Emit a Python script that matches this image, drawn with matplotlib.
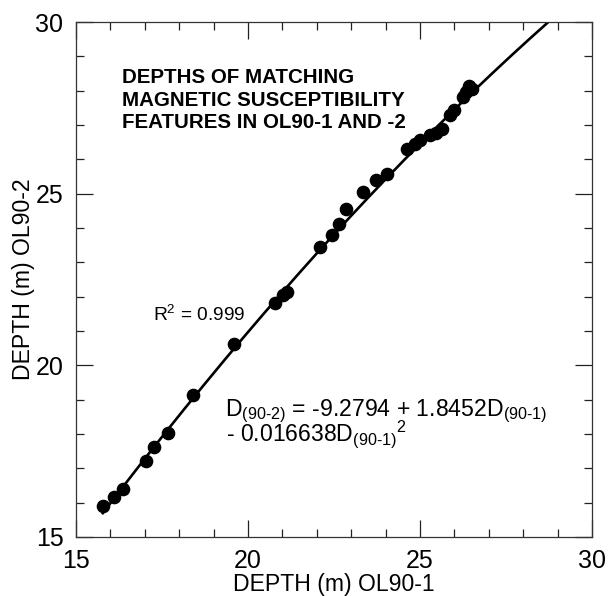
import numpy as np
import matplotlib
matplotlib.use("Agg")
import matplotlib.pyplot as plt
from matplotlib.ticker import MultipleLocator

plt.rcParams['font.family'] = ['Liberation Sans', 'DejaVu Sans']
plt.rcParams['mathtext.fontset'] = 'custom'
plt.rcParams['mathtext.rm'] = 'Liberation Sans'
plt.rcParams['mathtext.it'] = 'Liberation Sans'
plt.rcParams['mathtext.bf'] = 'Liberation Sans:bold'

# Matched feature depths (m)
depth_ol90_1 = [15.78, 16.10, 16.37, 17.03, 17.27, 17.67, 18.40, 19.59,
                20.78, 21.02, 21.13, 22.09, 22.44, 22.65, 22.85, 23.34,
                23.72, 24.04, 24.62, 24.85, 25.00, 25.29, 25.47, 25.64,
                25.87, 25.99, 26.25, 26.34, 26.42, 26.51]
depth_ol90_2 = [15.90, 16.17, 16.40, 17.21, 17.62, 18.03, 19.14, 20.62,
                21.82, 22.05, 22.14, 23.45, 23.80, 24.12, 24.55, 25.05,
                25.40, 25.57, 26.30, 26.45, 26.55, 26.71, 26.77, 26.88,
                27.29, 27.44, 27.82, 27.96, 28.14, 28.05]

# Quadratic fit coefficients
fit_coeffs = [-9.2794, 1.8452, -0.016638]
fit_range = [15.78, 28.70]

x_ticks = [15, 20, 25, 30]
y_ticks = [15, 20, 25, 30]

fig = plt.figure(figsize=(6.08, 5.96), dpi=100)
ax = fig.add_axes([0.125, 0.099, 0.8487, 0.864])

xf = np.linspace(fit_range[0], fit_range[1], 200)
yf = fit_coeffs[0] + fit_coeffs[1] * xf + fit_coeffs[2] * xf ** 2
ax.plot(xf, yf, color='black', lw=1.9, zorder=2)
ax.plot(depth_ol90_1, depth_ol90_2, 'o', color='black', ms=8.8, zorder=3)

ax.set_xlim(15, 30)
ax.set_ylim(15, 30)
ax.set_xticks(x_ticks)
ax.set_yticks(y_ticks)
ax.xaxis.set_minor_locator(MultipleLocator(1))
ax.yaxis.set_minor_locator(MultipleLocator(1))
ax.tick_params(which='both', direction='in', top=True, right=True,
               labelsize=18, width=0.9, color='#222222')
ax.tick_params(which='major', length=12, pad=9)
ax.tick_params(which='minor', length=5.8)
for s in ax.spines.values():
    s.set_linewidth(0.9)
    s.set_color('#333333')

ax.set_xlabel('DEPTH (m) OL90-1', fontsize=16.6, labelpad=0)
ax.set_ylabel('DEPTH (m) OL90-2', fontsize=16.6, labelpad=0)

ax.text(0.09, 0.91, 'DEPTHS OF MATCHING\nMAGNETIC SUSCEPTIBILITY\nFEATURES IN OL90-1 AND -2',
        transform=ax.transAxes, fontsize=14.8, fontweight='bold',
        va='top', ha='left', linespacing=1.22)

ax.text(17.24, 21.28, r'R$^{2}$ = 0.999', fontsize=13.8, ha='left', va='baseline')

ax.text(19.33, 18.52, r'D$_{(90\text{-}2)}$ = -9.2794 + 1.8452D$_{(90\text{-}1)}$',
        fontsize=16.6, ha='left', va='baseline')
ax.text(19.36, 17.8, r'- 0.016638D$_{(90\text{-}1)}$$^{2}$',
        fontsize=16.6, ha='left', va='baseline')

fig.savefig('out.png', dpi=100)
